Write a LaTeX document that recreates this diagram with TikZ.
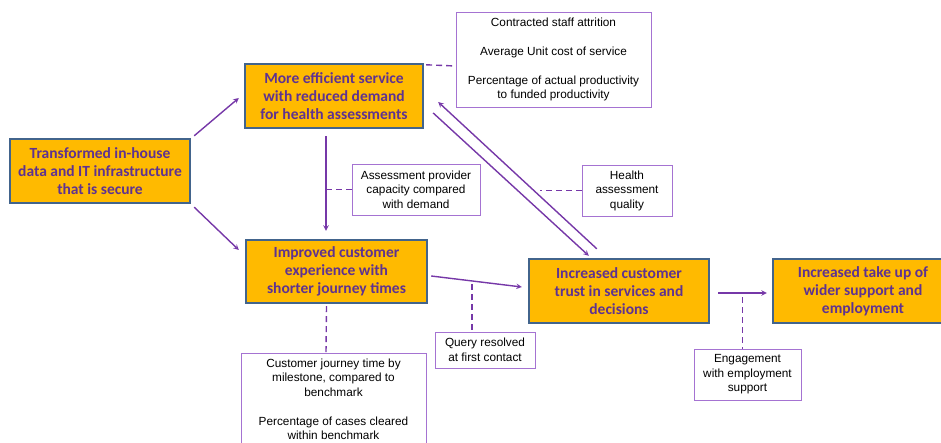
\documentclass[tikz,border=0pt]{standalone}
\usepackage{fontspec}
\setmainfont{Liberation Sans}
\newfontfamily\calibri{Carlito}
\usetikzlibrary{positioning, arrows.meta, calc}
\definecolor{boxorange}{RGB}{255,186,0}
\definecolor{boxedge}{RGB}{66,100,140}
\definecolor{textpurple}{RGB}{94,50,145}
\definecolor{linkpurple}{RGB}{118,56,168}
\definecolor{metricedge}{RGB}{165,115,210}

\begin{document}
\begin{tikzpicture}[
  x=1pt, y=-1pt,
  outcome/.style={draw=boxedge, line width=2.4pt, fill=boxorange, align=center,
                  text=textpurple, minimum width=180pt, minimum height=64pt, inner sep=2pt,
                  font=\calibri\bfseries\fontsize{15.5}{18}\selectfont},
  metric/.style={draw=metricedge, line width=0.9pt, fill=white, align=center, inner sep=2pt,
                 font=\fontsize{11.8}{14.5}\selectfont},
  flowarrow/.style={->, >=stealth, line width=1.4pt, linkpurple},
  metricline/.style={line width=1.4pt, linkpurple, dash pattern=on 6pt off 4pt}
]
  \clip (0,0) rectangle (941,443);

  \node[outcome] (trans) at (100,171) {Transformed in-house\\data and IT infrastructure\\that is secure};
  \node[outcome, minimum width=178pt] (eff) at (334,96) {More efficient service\\with reduced demand\\for health assessments};
  \node[outcome, minimum width=181pt, minimum height=63pt] (imp) at (336.5,271.5) {Improved customer\\experience with\\shorter journey times};
  \node[outcome] (trust) at (619,291) {Increased customer\\trust in services and\\decisions};
  \node[outcome] (take) at (863,291) {Increased take up of\\wider support and\\employment};

  \node[metric, minimum width=195pt, minimum height=95pt] (costs) at (553.5,59.5)
    {Contracted staff attrition\\[14.5pt]Average Unit cost of service\\[14.5pt]Percentage of actual productivity\\to funded productivity};
  \node[metric, minimum width=128pt, minimum height=51pt] (capacity) at (416,189.5)
    {Assessment provider\\capacity compared\\with demand};
  \node[metric, minimum width=90pt, minimum height=51pt] (quality) at (627,190.5)
    {Health\\assessment\\quality};
  \node[metric, minimum width=100pt, minimum height=36pt] (query) at (485,350)
    {Query resolved\\at first contact};
  \node[metric, minimum width=185pt, minimum height=93pt] (journey) at (333.5,399.5)
    {Customer journey time by\\milestone, compared to\\benchmark\\[14.5pt]Percentage of cases cleared\\within benchmark};
  \node[metric, minimum width=107pt, minimum height=51pt] (engage) at (747.5,374.5)
    {Engagement\\with employment\\support};

  \coordinate (effout) at ([xshift=-8pt]eff.south);
  \coordinate (impout) at ([xshift=3pt,yshift=-4.5pt]imp.east);
  \coordinate (trustin) at ([xshift=-6pt,yshift=4pt]trust.west);
  \coordinate (trustout) at ([xshift=8pt,yshift=-2pt]trust.east);
  \coordinate (takein) at ([xshift=-5pt,yshift=-2pt]take.west);
  \coordinate (qtap) at ($(impout)!0.45!(trustin)$);
  \coordinate (etap) at ($(trustout)!0.5!(takein)$);
  \coordinate (hqend) at ([xshift=-42pt]quality.west);

  \draw[flowarrow] ([xshift=3pt,yshift=2pt]trans.north east) -- ([xshift=-5pt,yshift=-2pt]eff.west);
  \draw[flowarrow] ([xshift=3pt,yshift=-3pt]trans.south east) -- ([xshift=-6pt,yshift=21.5pt]imp.west);
  \draw[flowarrow] ([yshift=-7pt]effout) -- ([xshift=-10.5pt,yshift=8pt]imp.north);
  \draw[flowarrow] (impout) -- (trustin);
  \draw[flowarrow] ([xshift=69pt,yshift=9pt]trust.north west) -- ([xshift=14pt,yshift=-6pt]eff.east);
  \draw[flowarrow] ([xshift=9pt,yshift=-17pt]eff.east) -- ([xshift=61pt,yshift=2pt]trust.north west);
  \draw[flowarrow] (trustout) -- (takein);

  \draw[metricline] ([xshift=2pt,yshift=-2pt]eff.north east) -- ([yshift=-6.5pt]costs.west);
  \draw[metricline] (capacity.west) -- (capacity.west -| effout);
  \draw[metricline] (quality.west) -- (hqend);
  \draw[metricline] ([yshift=-3pt]qtap) -- (qtap |- query.north);
  \draw[metricline] ([xshift=-10pt,yshift=-2pt]imp.south) -- ([xshift=-7.5pt]journey.north);
  \draw[metricline] ([yshift=-4pt]etap) -- (etap |- engage.north);
\end{tikzpicture}
\end{document}
